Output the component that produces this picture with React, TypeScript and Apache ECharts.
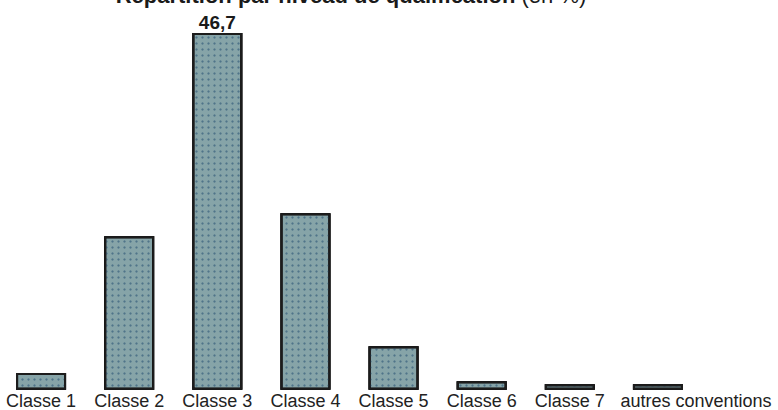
import React, { useEffect, useRef } from "react";
import * as echarts from "echarts";

const categories = [
  "Classe 1",
  "Classe 2",
  "Classe 3",
  "Classe 4",
  "Classe 5",
  "Classe 6",
  "Classe 7",
  "autres conventions",
];
const values = [2.2, 20.1, 46.7, 23.1, 5.7, 1.1, 0.7, 0.7];
const labelledIndex = 2;
const titleBold = "Répartition par niveau de qualification";
const titleNormal = " (en %)";

export default function App() {
  const ref = useRef<HTMLDivElement>(null);
  useEffect(() => {
    if (!ref.current) return;
    const chart = echarts.init(ref.current, undefined, { renderer: "svg" });
    const font = "'Liberation Sans', Arial, sans-serif";
    chart.setOption({
      animation: false,
      backgroundColor: "#ffffff",
      grid: { left: 0, right: 76, top: 7.8, bottom: 20.3, containLabel: false },
      graphic: [
        {
          type: "text",
          x: 354,
          y: 6,
          style: {
            text: "{b|" + titleBold + "}{n|" + titleNormal + "}",
            align: "center",
            verticalAlign: "bottom",
            rich: {
              b: { fontFamily: font, fontSize: 22, fontWeight: "bold", fill: "#1a1a1a" },
              n: { fontFamily: font, fontSize: 22, fontWeight: "normal", fill: "#1a1a1a" },
            },
          },
        },
      ],
      xAxis: {
        type: "category",
        data: categories,
        axisLine: { show: false },
        axisTick: { show: false },
        axisLabel: {
          interval: 0,
          margin: 2,
          fontFamily: font,
          fontSize: 18,
          color: "#222222",
          formatter: (v: string, i: number) =>
            i === categories.length - 1 ? "{last|" + v + "}" : "{n|" + v + "}",
          rich: {
            n: { fontFamily: font, fontSize: 18, color: "#222222" },
            last: { fontFamily: font, fontSize: 18, color: "#222222", padding: [0, 0, 0, 76] },
          },
        },
      },
      yAxis: {
        type: "value",
        min: 0,
        max: 50,
        show: false,
        splitLine: { show: false },
      },
      series: [
        {
          type: "bar",
          barWidth: 50,
          data: values.map((v, i) =>
            i === labelledIndex
              ? {
                  value: v,
                  label: {
                    show: true,
                    position: "top",
                    distance: 1,
                    formatter: (p: any) => String(p.value).replace(".", ","),
                    fontFamily: font,
                    fontSize: 19,
                    fontWeight: "bold",
                    color: "#1a1a1a",
                  },
                }
              : v
          ),
          itemStyle: {
            color: "#86a4a8",
            borderColor: "#1c1c1c",
            borderWidth: 2,
            shadowColor: "rgba(0,0,0,0.25)",
            shadowBlur: 1,
            decal: {
              symbol: "circle",
              symbolSize: 0.7,
              color: "rgba(60,110,150,0.4)",
              dashArrayX: [3, 3],
              dashArrayY: [3, 3],
              rotation: 0,
            },
          },
        },
      ],
    });
    return () => chart.dispose();
  }, []);
  return (
    <div
      ref={ref}
      style={{ position: "fixed", left: -3, top: 0, width: 781, height: 410 }}
    />
  );
}
